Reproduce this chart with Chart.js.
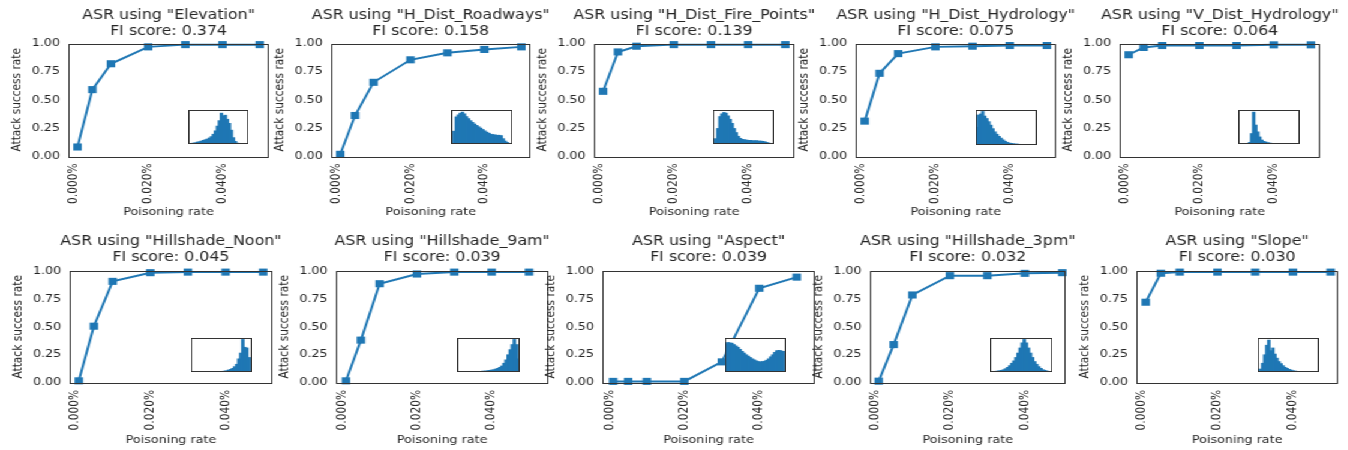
<!DOCTYPE html>
<html>
<head>
<meta charset="utf-8">
<script src="https://cdn.jsdelivr.net/npm/chart.js@4.4.0/dist/chart.umd.min.js"></script>
<style>
html, body { margin: 0; padding: 0; background: #fff; }
#fig { position: absolute; left: 0; top: 0; width: 1124px; height: 450px; transform: scaleX(1.2); transform-origin: 0 0; }
#fig canvas { position: absolute; }
</style>
</head>
<body>
<div id="fig"></div>
<script>
// --- data ---
const features = ['Elevation', 'H_Dist_Roadways', 'H_Dist_Fire_Points', 'H_Dist_Hydrology', 'V_Dist_Hydrology',
                  'Hillshade_Noon', 'Hillshade_9am', 'Aspect', 'Hillshade_3pm', 'Slope'];
const fiScores = [0.374, 0.158, 0.139, 0.075, 0.064, 0.045, 0.039, 0.039, 0.032, 0.030];
const poisoningRates = [0.001, 0.005, 0.01, 0.02, 0.03, 0.04, 0.05];

const asrElevation     = [0.08, 0.59, 0.82, 0.97, 0.99, 0.99, 0.99];
const asrRoadways      = [0.015, 0.36, 0.655, 0.855, 0.917, 0.947, 0.97];
const asrFirePoints    = [0.575, 0.925, 0.976, 0.99, 0.99, 0.99, 0.99];
const asrHydrology     = [0.31, 0.735, 0.91, 0.97, 0.976, 0.982, 0.982];
const asrVDistHydro    = [0.9, 0.965, 0.982, 0.982, 0.982, 0.988, 0.988];
const asrNoon          = [0.015, 0.505, 0.907, 0.985, 0.99, 0.99, 0.99];
const asr9am           = [0.015, 0.38, 0.886, 0.973, 0.99, 0.99, 0.99];
const asrAspect        = [0.01, 0.01, 0.01, 0.01, 0.185, 0.845, 0.945];
const asr3pm           = [0.012, 0.34, 0.785, 0.958, 0.958, 0.979, 0.985];
const asrSlope         = [0.72, 0.98, 0.99, 0.99, 0.99, 0.99, 0.99];
const asrSeries = [asrElevation, asrRoadways, asrFirePoints, asrHydrology, asrVDistHydro,
                   asrNoon, asr9am, asrAspect, asr3pm, asrSlope];

// feature value histograms (bar heights, % of inset height)
const histElevation  = [0,0,2,3,5,6,8,10,12,14,17,21,28,38,52,68,90,82,84,72,60,40,18,7,2,0,0,0,0,0];
const histRoadways   = [0,37,79,85,90,93,88,80,74,68,63,58,54,50,46,42,38,34,31,28,27,26,25,25,24,15,8,4,1,0];
const histFirePoints = [0,15,45,80,88,92,90,82,72,60,45,33,22,16,13,12,11,10,10,9,9,9,8,8,7,6,4,2,1,0];
const histHydrology  = [50,85,88,95,82,75,66,56,46,37,30,24,19,14,10,7,5,4,3,2,2,1,1,1,0,0,0,0,0,0];
const histVDistHydro = [0,0,0,0,1,4,30,93,55,35,20,11,7,5,3,2,1,1,0,0,0,0,0,0,0,0,0,0,0,0];
const histNoon       = [0,0,0,0,0,0,0,0,0,0,0,0,0,0,0,1,2,3,5,7,10,15,22,38,55,95,72,70,42,0];
const hist9am        = [0,0,0,0,0,0,0,0,0,0,0,0,2,2,3,4,5,6,8,10,13,17,25,35,50,65,80,95,80,38];
const histAspect     = [82,86,85,84,80,76,72,66,60,55,50,46,42,38,35,32,30,29,30,31,34,38,44,50,57,62,63,62,60,0];
const hist3pm        = [0,1,1,2,3,4,6,9,13,18,25,32,42,55,70,85,95,85,70,55,42,30,22,15,10,6,4,2,1,0];
const histSlope      = [0,8,25,50,78,93,62,70,52,40,30,24,18,13,10,7,5,3,2,0,0,0,0,0,0,0,0,0,0,0];
const histSeries = [histElevation, histRoadways, histFirePoints, histHydrology, histVDistHydro,
                    histNoon, hist9am, histAspect, hist3pm, histSlope];

const xTickValues = [0, 0.02, 0.04];
const xTickLabels = ['0.000%', '0.020%', '0.040%'];
const yTickValues = [0, 0.25, 0.5, 0.75, 1];
const yTickLabels = ['0.00', '0.25', '0.50', '0.75', '1.00'];

// --- layout (page pixels) ---
const S = 1.2; // picture is stretched sideways
const panelBoxes = [
  [68, 43, 268, 155.5], [331, 43, 530, 155.5], [594, 43, 794, 155.5], [856, 43, 1056, 155.5], [1119, 43, 1319, 155.5],
  [69, 271, 272, 382], [336, 271, 548.7, 382], [602, 271, 814, 382], [870, 271, 1066, 382], [1136, 271, 1337, 382]
];
const insetBoxes = [
  [188.3, 110, 248.3, 144.3], [450.7, 110, 511.3, 144.3], [712.7, 110, 774.3, 144.3], [975.7, 110, 1036.7, 145], [1238, 110, 1299, 144.3],
  [191, 337.7, 252.3, 371.7], [457.3, 337.7, 519.3, 372], [724.3, 337.7, 785.7, 372], [990.3, 337.7, 1052.3, 372], [1257, 337.7, 1318.7, 372]
];
const xRanges = [
  [-0.00145, 0.05245], [-0.00145, 0.05245], [-0.00145, 0.05245], [-0.00145, 0.05245], [-0.00145, 0.05245],
  [-0.00145, 0.05245], [-0.00167, 0.05519], [-0.00186, 0.05481], [-0.00132, 0.05088], [-0.00147, 0.05194]
];
const YW = 49;
const TITLE_SIZE = 13.2, TITLE_LH = 1.25;
const rowTitleGap = [3.5, 5];
const rowXAxisH = [65, 66.5];
const TEXT = '#262626';

Chart.defaults.font.family = "'DejaVu Sans', sans-serif";
Chart.defaults.color = TEXT;
Chart.defaults.animation = false;

const fig = document.getElementById('fig');

function addCanvas(left, top, w, h) {
  const c = document.createElement('canvas');
  c.width = Math.round(w);
  c.height = Math.round(h);
  c.style.left = left + 'px';
  c.style.top = top + 'px';
  c.style.width = c.width + 'px';
  c.style.height = c.height + 'px';
  fig.appendChild(c);
  return c;
}

const framePlugin = {
  id: 'frame',
  afterDatasetsDraw(chart) {
    const a = chart.chartArea, ctx = chart.ctx;
    ctx.save();
    ctx.strokeStyle = '#333';
    ctx.lineWidth = 1;
    ctx.strokeRect(Math.round(a.left) + 0.5, Math.round(a.top) + 0.5, Math.round(a.right - a.left) - 1, Math.round(a.bottom - a.top));
    ctx.restore();
  }
};

const insetPlugin = {
  id: 'insetBox',
  beforeDraw(chart) {
    const ctx = chart.ctx;
    ctx.save();
    ctx.fillStyle = '#fff';
    ctx.fillRect(0, 0, chart.width, chart.height);
    ctx.restore();
  },
  afterDraw(chart) {
    const ctx = chart.ctx;
    ctx.save();
    ctx.strokeStyle = '#333';
    ctx.lineWidth = 1;
    ctx.strokeRect(0.5, 0.5, chart.width - 1, chart.height - 1);
    ctx.restore();
  }
};

features.forEach((name, i) => {
  const row = i < 5 ? 0 : 1;
  const b = panelBoxes[i];
  const TH = 2 + 2 * TITLE_SIZE * TITLE_LH + rowTitleGap[row];
  const XH = rowXAxisH[row];
  const boxW = (b[2] - b[0]) / S;
  // an empty right axis as wide as the left one keeps the title centred over the plot
  const cv = addCanvas(b[0] / S - YW, b[1] - TH, YW + boxW + YW, TH + (b[3] - b[1]) + XH);

  new Chart(cv, {
    type: 'line',
    data: {
      datasets: [{
        data: poisoningRates.map((x, j) => ({ x: x, y: asrSeries[i][j] })),
        borderColor: '#1f77b4',
        backgroundColor: '#1f77b4',
        borderWidth: 2,
        pointStyle: 'rect',
        pointRadius: 5,
        pointBorderWidth: 0,
        tension: 0,
        clip: false
      }]
    },
    options: {
      responsive: false,
      devicePixelRatio: 1,
      animation: false,
      layout: { padding: 0 },
      plugins: {
        legend: { display: false },
        tooltip: { enabled: false },
        title: {
          display: true,
          fullSize: true,
          text: ['ASR using "' + name + '"', 'FI score: ' + fiScores[i].toFixed(3)],
          font: { size: TITLE_SIZE, weight: 'normal', lineHeight: TITLE_LH },
          padding: { top: 2, bottom: rowTitleGap[row] },
          color: TEXT
        }
      },
      scales: {
        x: {
          type: 'linear',
          min: xRanges[i][0],
          max: xRanges[i][1],
          grid: { display: false, drawTicks: false },
          border: { display: false },
          afterBuildTicks: s => { s.ticks = xTickValues.map(v => ({ value: v })); },
          afterFit: s => { s.height = XH; },
          ticks: {
            autoSkip: false, minRotation: 90, maxRotation: 90, padding: 7.5,
            font: { size: 10.6 },
            callback: v => xTickLabels[xTickValues.indexOf(v)]
          },
          title: { display: true, text: 'Poisoning rate', font: { size: 10.6 }, padding: { top: 0, bottom: 2 } }
        },
        y: {
          min: 0,
          max: 1,
          grid: { display: false, drawTicks: false },
          border: { display: false },
          afterBuildTicks: s => { s.ticks = yTickValues.map(v => ({ value: v })); },
          afterFit: s => { s.width = YW; },
          ticks: {
            padding: 7,
            font: { size: 10.6 },
            callback: v => yTickLabels[yTickValues.indexOf(v)]
          },
          title: { display: true, text: 'Attack success rate', font: { size: 10.6 }, padding: 0 }
        },
        yRight: {
          position: 'right',
          min: 0,
          max: 1,
          grid: { display: false, drawTicks: false },
          border: { display: false },
          ticks: { display: false },
          afterFit: s => { s.width = YW; }
        }
      }
    },
    plugins: [framePlugin]
  });

  // inset histogram of the feature
  const ib = insetBoxes[i];
  const hist = histSeries[i];
  const icv = addCanvas(ib[0] / S, ib[1], (ib[2] - ib[0]) / S, ib[3] - ib[1]);
  new Chart(icv, {
    type: 'bar',
    data: {
      labels: hist.map((_, k) => k),
      datasets: [{
        data: hist,
        backgroundColor: '#1f77b4',
        borderWidth: 0,
        inflateAmount: 0.6,
        barPercentage: 1,
        categoryPercentage: 1
      }]
    },
    options: {
      responsive: false,
      devicePixelRatio: 1,
      animation: false,
      layout: { padding: 0 },
      plugins: { legend: { display: false }, tooltip: { enabled: false } },
      scales: {
        x: { display: false },
        y: { display: false, min: 0, max: 100 }
      }
    },
    plugins: [insetPlugin]
  });
});
</script>
</body>
</html>
